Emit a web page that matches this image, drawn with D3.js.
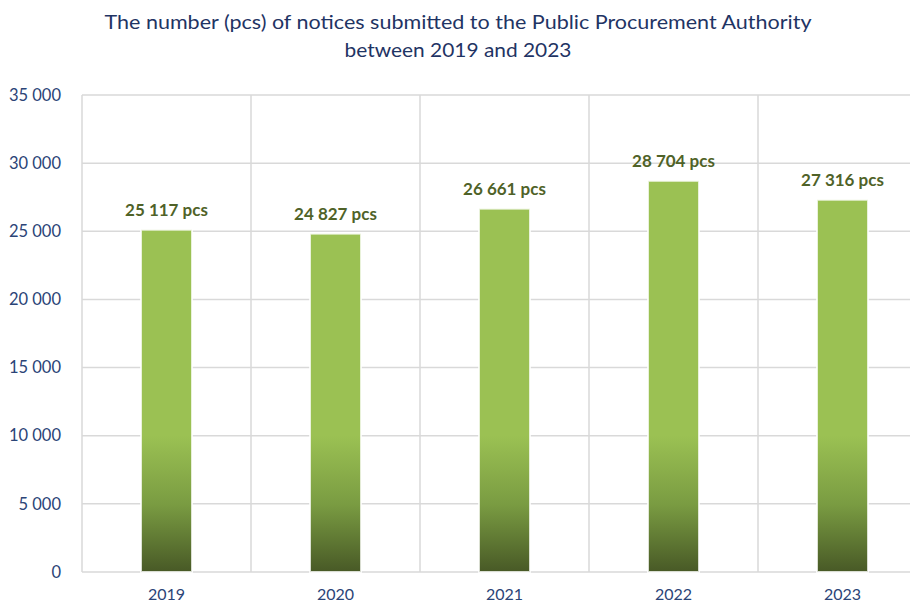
<!DOCTYPE html>
<html>
<head>
<meta charset="utf-8">
<script src="https://cdn.jsdelivr.net/npm/d3@7"></script>
<style>
    body { margin: 0; background: #fff; }
    svg { display: block; font-family: "Lato", "Open Sans", sans-serif; }
</style>
</head>
<body>
<div id="chart"></div>
<script>
const years = ["2019", "2020", "2021", "2022", "2023"];
const notices = [25117, 24827, 26661, 28704, 27316];
const yTicks = [0, 5000, 10000, 15000, 20000, 25000, 30000, 35000];
const titleLines = [
    "The number (pcs) of notices submitted to the Public Procurement Authority",
    "between 2019 and 2023"
];

const width = 910, height = 605;
const margin = { top: 95, right: -17, bottom: 33, left: 82 };

// thousands with a space, like "25 117"
const fmt = v => d3.format(",")(v).replace(/,/g, " ");

const svg = d3.select("#chart")
    .append("svg")
    .attr("width", width)
    .attr("height", height);

const x = d3.scaleBand()
    .domain(years)
    .range([margin.left, width - margin.right]);

const y = d3.scaleLinear()
    .domain([0, 35000])
    .range([height - margin.bottom, margin.top]);

// gradient: flat green above 10 000, darkening toward the base
const defs = svg.append("defs");
const grad = defs.append("linearGradient")
    .attr("id", "barGrad")
    .attr("gradientUnits", "userSpaceOnUse")
    .attr("x1", 0).attr("x2", 0)
    .attr("y1", y(10000)).attr("y2", y(0));
grad.append("stop").attr("offset", 0).attr("stop-color", "#9bc153");
grad.append("stop").attr("offset", 0.5).attr("stop-color", "#7a9c42");
grad.append("stop").attr("offset", 1).attr("stop-color", "#485926");

// title
svg.append("g")
    .selectAll("text")
    .data(titleLines)
    .enter()
    .append("text")
    .attr("x", 458)
    .attr("y", (d, i) => 29 + i * 28)
    .attr("text-anchor", "middle")
    .attr("textLength", (d, i) => i === 0 ? 707 : 227)
    .attr("lengthAdjust", "spacingAndGlyphs")
    .style("font-size", "20px")
    .style("fill", "#1f3464")
    .text(d => d);

// horizontal gridlines
svg.append("g")
    .selectAll("line")
    .data(yTicks)
    .enter()
    .append("line")
    .attr("x1", margin.left)
    .attr("x2", width - margin.right)
    .attr("y1", d => y(d))
    .attr("y2", d => y(d))
    .attr("stroke", "#d9d9d9")
    .attr("stroke-width", 1.5);

// vertical gridlines at category boundaries
svg.append("g")
    .selectAll("line")
    .data(years.concat(["end"]))
    .enter()
    .append("line")
    .attr("x1", (d, i) => margin.left + i * x.bandwidth())
    .attr("x2", (d, i) => margin.left + i * x.bandwidth())
    .attr("y1", y(35000))
    .attr("y2", y(0))
    .attr("stroke", "#d9d9d9")
    .attr("stroke-width", 1.5);

// y axis labels
const yAxis = svg.append("g")
    .attr("transform", "translate(" + (margin.left - 18) + ",0)")
    .call(d3.axisLeft(y).tickValues(yTicks).tickSize(0).tickFormat(fmt));
yAxis.select(".domain").remove();
yAxis.selectAll("text")
    .style("font-family", "Lato, sans-serif")
    .style("font-size", "16.5px")
    .style("fill", "#2b4477");

// x axis labels
const xAxis = svg.append("g")
    .attr("transform", "translate(0," + y(0) + ")")
    .call(d3.axisBottom(x).tickSize(0).tickPadding(17));
xAxis.select(".domain").remove();
xAxis.selectAll("text")
    .style("font-family", "Lato, sans-serif")
    .style("font-size", "16px")
    .style("fill", "#2b4477");

// bars
const barW = x.bandwidth() * 0.302;
const data = years.map((d, i) => ({ year: d, value: notices[i] }));

svg.append("g")
    .selectAll("rect")
    .data(data)
    .enter()
    .append("rect")
    .attr("x", d => x(d.year) + (x.bandwidth() - barW) / 2)
    .attr("y", d => y(d.value))
    .attr("width", barW)
    .attr("height", d => y(0) - y(d.value))
    .attr("fill", "url(#barGrad)")
    .attr("stroke", "#ffffff")
    .attr("stroke-opacity", 0.8)
    .attr("stroke-width", 2);

// value labels
svg.append("g")
    .selectAll("text")
    .data(data)
    .enter()
    .append("text")
    .attr("x", d => x(d.year) + x.bandwidth() / 2)
    .attr("y", d => y(d.value) - 14)
    .attr("text-anchor", "middle")
    .style("font-size", "17px")
    .style("font-weight", "bold")
    .style("fill", "#4f6228")
    .text(d => fmt(d.value) + " pcs");
</script>
</body>
</html>
